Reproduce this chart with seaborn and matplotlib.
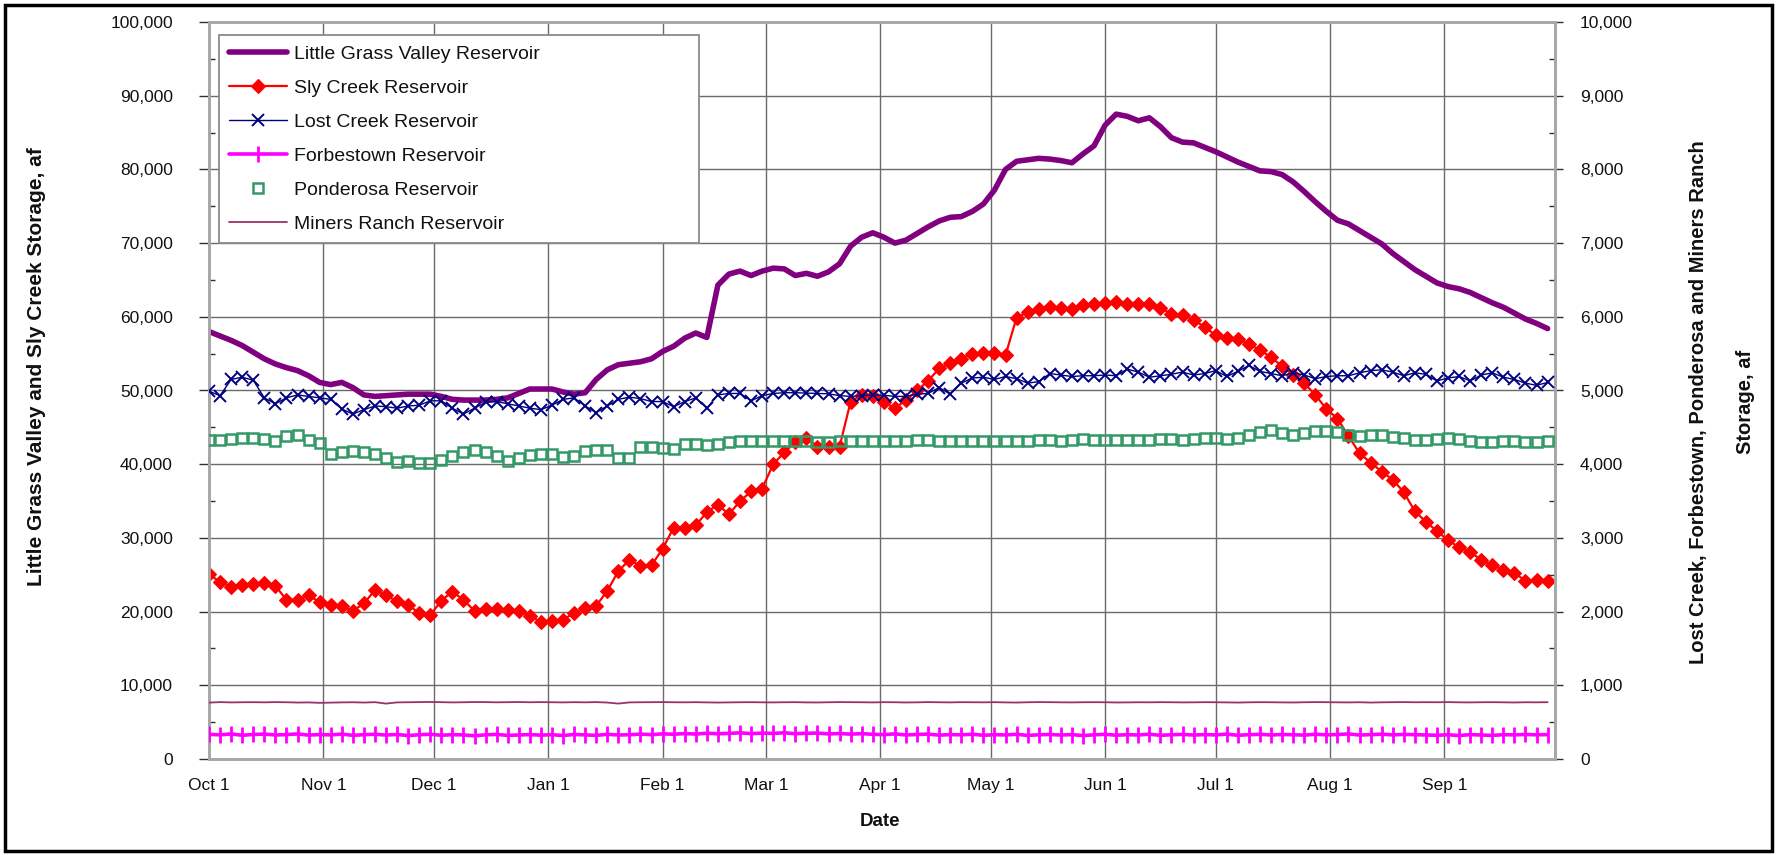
import numpy as np
import pandas as pd
import matplotlib
matplotlib.use("Agg")
import matplotlib.pyplot as plt
from matplotlib.ticker import FixedLocator, MultipleLocator, FuncFormatter
from matplotlib.patches import Rectangle
import seaborn as sns

sns.set_theme(style="white")
plt.rcParams['font.family'] = ['Liberation Sans', 'DejaVu Sans']

# ---------------- data (day of water year, sampled every 3 days) ----------------
sample_day = list(range(0, 366, 3))

month_days = [0, 31, 61, 92, 123, 151, 182, 212, 243, 273, 304, 335, 365]
month_labels = ["Oct 1", "Nov 1", "Dec 1", "Jan 1", "Feb 1", "Mar 1", "Apr 1",
                "May 1", "Jun 1", "Jul 1", "Aug 1", "Sep 1", ""]

little_grass_valley = [
    58000, 57400, 56800, 56100, 55200, 54300, 53600, 53100, 52700, 52000,
    51100, 50800, 51100, 50400, 49400, 49200, 49300, 49400, 49500, 49500,
    49500, 49200, 48800, 48700, 48700, 48700, 48800, 49000, 49600, 50200,
    50200, 50200, 49800, 49500, 49700, 51500, 52800, 53500, 53700, 53900,
    54300, 55300, 56000, 57100, 57800, 57200, 64300, 65800, 66200, 65600,
    66200, 66600, 66500, 65600, 65900, 65500, 66100, 67200, 69600, 70800,
    71400, 70800, 70000, 70400, 71300, 72200, 73000, 73500, 73600, 74300,
    75300, 77200, 80000, 81100, 81300, 81500, 81400, 81200, 80900, 82100,
    83200, 86000, 87500, 87200, 86600, 87000, 85800, 84300, 83700, 83600,
    83000, 82400, 81700, 81000, 80400, 79800, 79700, 79300, 78300, 77000,
    75600, 74300, 73100, 72600, 71700, 70800, 69900, 68600, 67500, 66400,
    65500, 64600, 64100, 63800, 63300, 62600, 61900, 61300, 60500, 59700,
    59100, 58400]

sly_creek = [
    25100, 24000, 23400, 23600, 23700, 23900, 23500, 21600, 21600, 22200,
    21300, 20900, 20800, 20100, 21100, 22900, 22200, 21400, 20900, 19800,
    19500, 21500, 22700, 21600, 20100, 20300, 20400, 20200, 20100, 19400,
    18600, 18700, 18900, 19800, 20500, 20800, 22800, 25500, 27000, 26200,
    26300, 28500, 31400, 31400, 31700, 33500, 34500, 33200, 35000, 36300,
    36700, 40000, 41600, 43000, 43600, 42400, 42400, 42400, 48500, 49400,
    49200, 48400, 47600, 48700, 50000, 51300, 53000, 53700, 54300, 55000,
    55100, 55100, 54800, 59900, 60600, 61000, 61300, 61200, 61100, 61600,
    61700, 61900, 62000, 61700, 61700, 61800, 61200, 60400, 60300, 59600,
    58600, 57500, 57100, 57000, 56300, 55500, 54500, 53300, 52100, 51000,
    49400, 47500, 46200, 43800, 41500, 40200, 39000, 37900, 36200, 33600,
    32200, 30900, 29700, 28700, 28100, 27000, 26300, 25700, 25200, 24200,
    24300, 24200]

lost_creek = [
    4990, 4930, 5150, 5180, 5140, 4900, 4820, 4900, 4940, 4920,
    4900, 4880, 4750, 4680, 4740, 4790, 4780, 4760, 4790, 4800,
    4860, 4860, 4760, 4680, 4760, 4840, 4850, 4820, 4790, 4760,
    4740, 4800, 4880, 4900, 4790, 4700, 4790, 4880, 4910, 4890,
    4850, 4850, 4780, 4850, 4900, 4760, 4940, 4960, 4960, 4860,
    4930, 4960, 4970, 4970, 4965, 4960, 4955, 4930, 4920, 4930,
    4940, 4935, 4920, 4920, 4950, 4960, 5040, 4950, 5100, 5170,
    5180, 5150, 5190, 5160, 5100, 5120, 5230, 5210, 5190, 5200,
    5200, 5210, 5200, 5290, 5250, 5180, 5200, 5220, 5250, 5210,
    5230, 5270, 5190, 5260, 5340, 5260, 5230, 5200, 5240, 5210,
    5160, 5190, 5200, 5200, 5240, 5270, 5280, 5250, 5200, 5240,
    5220, 5130, 5170, 5190, 5130, 5210, 5240, 5180, 5150, 5100,
    5070, 5110]

forbestown = [
    335, 328, 340, 322, 333, 338, 326, 331, 340, 324,
    332, 327, 338, 321, 330, 336, 325, 333, 318, 329,
    336, 322, 330, 327, 315, 328, 334, 320, 326, 331,
    324, 330, 318, 333, 327, 321, 335, 326, 329, 338,
    330, 341, 336, 345, 338, 350, 342, 348, 355, 344,
    351, 347, 356, 343, 349, 352, 340, 346, 337, 344,
    335, 330, 341, 326, 333, 338, 324, 331, 328, 336,
    322, 330, 327, 335, 320, 329, 333, 325, 331, 318,
    328, 335, 323, 330, 326, 337, 321, 329, 334, 325,
    331, 327, 338, 322, 330, 335, 326, 333, 329, 324,
    336, 328, 332, 340, 325, 331, 337, 327, 334, 330,
    326, 322, 329, 318, 331, 325, 320, 330, 327, 333,
    328, 331]

ponderosa = [
    4330, 4335, 4340, 4350, 4360, 4340, 4310, 4380, 4400, 4330,
    4290, 4140, 4160, 4180, 4170, 4140, 4080, 4030, 4040, 4020,
    4010, 4060, 4110, 4160, 4190, 4170, 4110, 4040, 4090, 4120,
    4140, 4140, 4100, 4110, 4180, 4190, 4190, 4080, 4080, 4230,
    4240, 4220, 4210, 4270, 4270, 4260, 4280, 4300, 4320, 4310,
    4320, 4320, 4315, 4320, 4320, 4300, 4300, 4310, 4320, 4320,
    4320, 4320, 4320, 4320, 4325, 4325, 4320, 4320, 4315, 4320,
    4320, 4320, 4315, 4320, 4320, 4325, 4325, 4320, 4330, 4340,
    4330, 4325, 4330, 4335, 4330, 4330, 4340, 4340, 4335, 4345,
    4350, 4350, 4345, 4360, 4390, 4440, 4460, 4420, 4400, 4430,
    4450, 4450, 4440, 4390, 4380, 4400, 4400, 4370, 4350, 4330,
    4330, 4340, 4360, 4340, 4320, 4300, 4300, 4310, 4310, 4300,
    4300, 4310]

miners_ranch = [
    765, 772, 768, 770, 771, 769, 772, 770, 766, 768,
    762, 765, 768, 770, 766, 771, 752, 768, 770, 772,
    774, 771, 768, 770, 773, 772, 769, 771, 773, 770,
    772, 770, 768, 771, 769, 772, 766, 752, 768, 770,
    771, 772, 770, 769, 771, 768, 766, 768, 770, 771,
    769, 768, 770, 771, 768, 767, 770, 772, 771, 770,
    768, 771, 770, 767, 769, 772, 770, 768, 771, 770,
    769, 771, 768, 766, 770, 772, 771, 769, 768, 770,
    771, 770, 767, 768, 770, 769, 771, 770, 768, 769,
    771, 770, 768, 766, 769, 771, 770, 768, 767, 770,
    772, 771, 769, 768, 770, 766, 769, 771, 772, 770,
    771, 770, 772, 769, 768, 770, 771, 769, 767, 770,
    769, 771]

series_names = ["Little Grass Valley Reservoir", "Sly Creek Reservoir",
                "Lost Creek Reservoir", "Forbestown Reservoir",
                "Ponderosa Reservoir", "Miners Ranch Reservoir"]

# ---------------- figure ----------------
W, H = 1779, 855
fig = plt.figure(figsize=(W / 100, H / 100), dpi=100)
fig.patch.set_facecolor("white")
ax = fig.add_axes([209 / W, 96 / H, 1346 / W, 737 / H])
ax2 = ax.twinx()

# left-axis series
sns.lineplot(x=sample_day, y=little_grass_valley, ax=ax, color="#800080", lw=4.0,
             label=series_names[0], zorder=3)
sns.lineplot(x=sample_day, y=sly_creek, ax=ax, color="#FF0000", lw=1.6,
             marker="D", markersize=7, markerfacecolor="#FF0000",
             markeredgecolor="#FF0000", markeredgewidth=0.8,
             label=series_names[1], zorder=3)

# right-axis series
sns.lineplot(x=sample_day, y=lost_creek, ax=ax2, color="#000080", lw=1.0,
             marker="x", markersize=8.5, markeredgecolor="#000080",
             markeredgewidth=1.4, label=series_names[2], zorder=3)
sns.lineplot(x=sample_day, y=forbestown, ax=ax2, color="#FF00FF", lw=2.6,
             marker="|", markersize=11, markeredgecolor="#FF00FF",
             markeredgewidth=2.0, label=series_names[3], zorder=3)
sns.lineplot(x=sample_day, y=ponderosa, ax=ax2, color="#339966", linestyle="none",
             marker="s", markersize=7, markerfacecolor="none",
             markeredgecolor="#339966", markeredgewidth=1.8,
             label=series_names[4], zorder=3)
sns.lineplot(x=sample_day, y=miners_ranch, ax=ax2, color="#993366", lw=1.3,
             label=series_names[5], zorder=3)

# ---------------- axes styling ----------------
ax.set_xlim(0, 365)
ax.set_ylim(0, 100000)
ax2.set_ylim(0, 10000)

ax.xaxis.set_major_locator(FixedLocator(month_days))
ax.set_xticklabels(month_labels)
ax.yaxis.set_major_locator(MultipleLocator(10000))
ax.yaxis.set_minor_locator(MultipleLocator(5000))
ax2.yaxis.set_major_locator(MultipleLocator(1000))
ax2.yaxis.set_minor_locator(MultipleLocator(500))
fmt = FuncFormatter(lambda v, p: f"{v:,.0f}")
ax.yaxis.set_major_formatter(fmt)
ax2.yaxis.set_major_formatter(fmt)

ax.set_xlabel("")
ax.set_ylabel("")
ax2.set_ylabel("")

tick_col = "#303030"
ax.tick_params(axis="x", which="major", direction="out", length=4.5, width=1,
               color=tick_col, labelsize=12.5, pad=9, labelcolor="#111111")
ax.tick_params(axis="y", which="major", direction="out", length=7, width=1,
               color=tick_col, labelsize=12.5, pad=19, labelcolor="#111111", left=True)
ax.tick_params(axis="y", which="minor", direction="in", length=4, width=1,
               color=tick_col, left=True)
ax2.tick_params(axis="y", which="major", direction="out", length=6, width=1,
                color=tick_col, labelsize=12.5, pad=12, labelcolor="#111111", right=True)
ax2.tick_params(axis="y", which="minor", direction="in", length=4, width=1,
                color=tick_col, right=True)

ax.set_axisbelow(True)
ax.grid(True, which="major", axis="both", color="#6a6a6a", lw=1.0)

for a in (ax, ax2):
    for side, sp in a.spines.items():
        sp.set_visible(True)
        sp.set_color("#a8a8a8")
        sp.set_linewidth(2.0)

# ---------------- legend ----------------
h1, l1 = ax.get_legend_handles_labels()
h2, l2 = ax2.get_legend_handles_labels()
if ax.get_legend() is not None:
    ax.get_legend().remove()
if ax2.get_legend() is not None:
    ax2.get_legend().remove()
leg = ax2.legend(h1 + h2, l1 + l2, loc="upper left",
                 bbox_to_anchor=(0.0074, 0.657, 0.357, 0.325), mode="expand",
                 fontsize=14, frameon=True, fancybox=False, framealpha=1,
                 edgecolor="#8a8a8a", borderpad=0.5, labelspacing=0.85,
                 handlelength=3.0, handletextpad=0.35, borderaxespad=0,
                 numpoints=1)
leg.get_frame().set_linewidth(1.3)
for t in leg.get_texts():
    t.set_color("#111111")

# ---------------- axis titles ----------------
label_font = ["Liberation Sans Narrow", "Liberation Sans", "DejaVu Sans"]
fig.text(37 / W, 1 - 367 / H, "Little Grass Valley and Sly Creek Storage, af",
         rotation=90, ha="center", va="center", fontsize=15,
         fontweight="bold", family=label_font, color="#111111")
fig.text(1722 / W, 1 - 402 / H,
         "Lost Creek, Forbestown, Ponderosa and Miners Ranch\nStorage, af",
         rotation=90, ha="center", va="center", multialignment="center",
         linespacing=2.9, fontsize=14.5, fontweight="bold", family=label_font,
         color="#111111")
fig.text(880 / W, 1 - 821 / H, "Date", ha="center", va="center",
         fontsize=13.5, fontweight="bold", color="#111111")

# outer frame
fig.patches.append(Rectangle((5 / W, 4 / H), 1767 / W, 846 / H,
                             transform=fig.transFigure, fill=False,
                             edgecolor="black", linewidth=2.5))

fig.savefig("out.png", dpi=100, facecolor="white")
